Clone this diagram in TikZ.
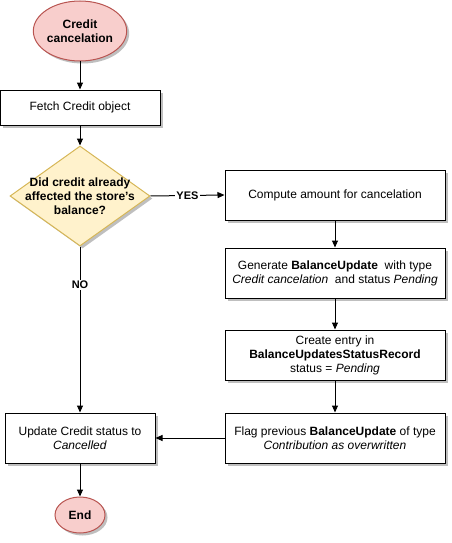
\documentclass[tikz,border=0pt]{standalone}
\usepackage{fontspec}
\setmainfont{Liberation Sans}
\usetikzlibrary{shapes.geometric,shadows,arrows.meta}
\definecolor{termfill}{HTML}{F8CECC}
\definecolor{termline}{HTML}{B85450}
\definecolor{askfill}{HTML}{FFF2CC}
\definecolor{askline}{HTML}{D6B656}
\tikzset{
  every node/.style={font=\fontsize{12}{14}\selectfont},
  shade/.style={drop shadow={shadow xshift=2.5pt,shadow yshift=-2.5pt,opacity=0.25,fill=black}},
  term/.style={ellipse,draw=termline,line width=1pt,fill=termfill,shade,inner sep=0pt,font=\fontsize{12}{14}\selectfont\bfseries,align=center},
  stepbox/.style={rectangle,draw,line width=1pt,fill=white,shade,minimum width=220pt,align=center,inner sep=0pt},
  ask/.style={diamond,draw=askline,line width=1pt,fill=askfill,shade,inner sep=0pt,minimum width=140pt,minimum height=100pt},
  flow/.style={-{Triangle[width=6pt,length=7pt]},line width=1pt},
  tag/.style={fill=white,inner sep=1pt,font=\fontsize{11}{13}\selectfont\bfseries}
}
\begin{document}
\begin{tikzpicture}[x=1pt,y=1pt]
\useasboundingbox (0,0) rectangle (451,-543);
% left column
\node[term,minimum width=90pt,minimum height=60pt] (start) at (80,-31) {Credit\\cancelation};
\node[stepbox,minimum width=160pt,minimum height=35pt] (fetch) at (80,-107.5) {Fetch Credit object};
\node[ask] (check) at (80,-196) {};
\node[align=center,font=\fontsize{12}{14}\selectfont\bfseries] (checktext) at (check.center) {Did credit already\\affected the store's\\balance?};
\node[stepbox,minimum width=150pt,minimum height=50pt] (update) at (80,-438) {Update Credit status to\\\textit{Cancelled}};
\node[term,minimum width=50pt,minimum height=36pt] (stop) at (80,-515) {End};
% right column
\node[stepbox,minimum height=50pt] (compute) at (335,-195) {Compute amount for cancelation};
\node[stepbox,minimum height=50pt] (gen) at (335,-273) {Generate \textbf{BalanceUpdate}\ \ with type\\\textit{Credit cancelation}\ \ and status \textit{Pending}};
\node[stepbox,minimum height=50pt] (entry) at (335,-355) {Create entry in\\\textbf{BalanceUpdatesStatusRecord}\\status = \textit{Pending}};
\node[stepbox,minimum height=50pt] (flag) at (335,-438) {Flag previous \textbf{BalanceUpdate} of type\\\textit{Contribution as overwritten}};
% connectors
\draw[flow] (start) -- (fetch);
\draw[flow] (fetch) -- (check.north);
\draw[flow] (check.east) -- node[tag,pos=0.5] {YES} (compute.west);
\draw[flow] (check.south) -- node[tag,pos=0.23] {NO} (update.north);
\draw[flow] (compute) -- (gen);
\draw[flow] (gen) -- (entry);
\draw[flow] (entry) -- (flag);
\draw[flow] (flag.west) -- (update.east);
\draw[flow] (update) -- (stop);
\end{tikzpicture}
\end{document}
